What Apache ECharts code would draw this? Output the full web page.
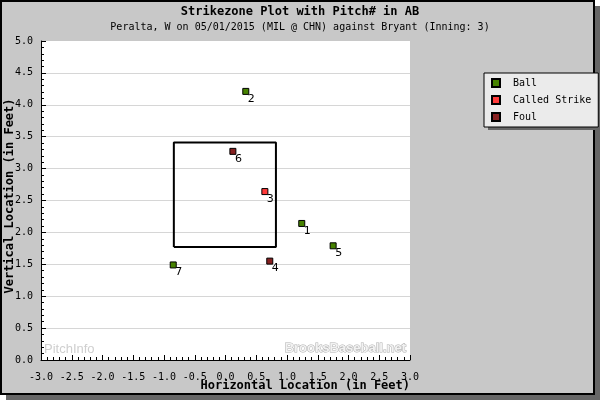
<!DOCTYPE html>
<html>
<head>
<meta charset="utf-8">
<script src="https://cdn.jsdelivr.net/npm/echarts@6/dist/echarts.min.js"></script>
<style>
  html, body { margin: 0; padding: 0; background: #ffffff; }
  #wrap { position: relative; width: 600px; height: 400px; overflow: hidden; }
  #shadow { position: absolute; left: 6px; top: 6px; width: 594px; height: 394px; background: #666666; }
  #frame { position: absolute; left: 0; top: 0; width: 595px; height: 395px; background: #c8c8c8; border: 2px solid #000; box-sizing: border-box; }
  #chart { position: absolute; left: 0; top: 0; width: 600px; height: 400px; }
</style>
</head>
<body>
<div id="wrap">
  <div id="shadow"></div>
  <div id="frame"></div>
  <div id="chart"></div>
</div>
<script>
// ---- data ----
const chartTitle = 'Strikezone Plot with Pitch# in AB';
const chartSubtitle = 'Peralta, W on 05/01/2015 (MIL @ CHN) against Bryant (Inning: 3)';
const xAxisTitle = 'Horizontal Location (in Feet)';
const yAxisTitle = 'Vertical Location (in Feet)';
const categories = ['Ball', 'Called Strike', 'Foul'];
const categoryColors = ['#468200', '#ff3a3a', '#862020'];
const pitchNum  = [1, 2, 3, 4, 5, 6, 7];
const pitchX    = [1.24, 0.33, 0.64, 0.72, 1.75, 0.12, -0.85];
const pitchY    = [2.14, 4.21, 2.64, 1.55, 1.79, 3.27, 1.49];
const pitchType = ['Ball', 'Ball', 'Called Strike', 'Foul', 'Ball', 'Foul', 'Ball'];
const zoneX = [-0.84, 0.82];
const zoneY = [1.77, 3.41];
const xRange = [-3, 3];
const yRange = [0, 5];
const tickStep = 0.5;

// ---- build ----
const MONO = 'DejaVu Sans Mono';
const zonePath = [
  [zoneX[0], zoneY[0]], [zoneX[1], zoneY[0]], [zoneX[1], zoneY[1]],
  [zoneX[0], zoneY[1]], [zoneX[0], zoneY[0]]
];

const scatterSeries = categories.map((cat, ci) => ({
  name: cat,
  type: 'scatter',
  symbol: 'rect',
  symbolSize: 6,
  itemStyle: { color: categoryColors[ci], borderColor: '#000', borderWidth: 1, opacity: 1 },
  label: {
    show: true,
    position: [9, 11],
    align: 'center',
    verticalAlign: 'middle',
    formatter: p => String(p.value[2]),
    fontFamily: 'DejaVu Sans',
    fontSize: 11,
    color: '#000'
  },
  emphasis: { disabled: true },
  z: 5,
  data: pitchNum
    .map((n, i) => ({ n, i }))
    .filter(d => pitchType[d.i] === cat)
    .map(d => [pitchX[d.i], pitchY[d.i], d.n])
}));

const axisCommon = {
  type: 'value',
  interval: tickStep,
  axisLine: { show: true, onZero: false, lineStyle: { color: '#000', width: 1 } },
  axisTick: { show: true, inside: true, length: 5, lineStyle: { color: '#000' } },
  minorTick: { show: true, splitNumber: 5, length: 3, lineStyle: { color: '#000' } },
  axisLabel: {
    fontFamily: MONO, fontSize: 10, color: '#000',
    formatter: v => v.toFixed(1)
  }
};

const chart = echarts.init(document.getElementById('chart'), null, { renderer: 'canvas' });
chart.setOption({
  animation: false,
  title: {
    text: chartTitle,
    subtext: chartSubtitle,
    left: 'center',
    top: 1,
    itemGap: 4,
    textStyle: { fontFamily: MONO, fontWeight: 'bold', fontSize: 12, color: '#000' },
    subtextStyle: { fontFamily: MONO, fontSize: 10, color: '#000' }
  },
  legend: {
    orient: 'vertical',
    left: 484,
    top: 73,
    padding: [4, 7, 4, 7],
    itemGap: 5,
    itemWidth: 8,
    itemHeight: 8,
    icon: 'rect',
    backgroundColor: '#ebebeb',
    borderColor: '#000',
    borderWidth: 1,
    selectedMode: false,
    z: 10,
    textStyle: { fontFamily: MONO, fontSize: 10, color: '#000', padding: [0, 0, 0, 8], lineHeight: 12 },
    data: categories
  },
  grid: {
    left: 41, top: 41, right: 190, bottom: 40,
    show: true, backgroundColor: '#ffffff', borderWidth: 0
  },
  xAxis: Object.assign({}, axisCommon, {
    min: xRange[0], max: xRange[1],
    splitLine: { show: false },
    axisLabel: Object.assign({}, axisCommon.axisLabel, { margin: 12 })
  }),
  yAxis: Object.assign({}, axisCommon, {
    min: yRange[0], max: yRange[1],
    splitLine: { show: true, showMinLine: false, showMaxLine: false, lineStyle: { color: '#d6d6d6', width: 1 } },
    axisLabel: Object.assign({}, axisCommon.axisLabel, { margin: 8 })
  }),
  graphic: [
    { type: 'rect', z: 1, silent: true,
      shape: { x: 488, y: 77, width: 113, height: 53 },
      style: { fill: '#666666' } },
    { type: 'text', x: 44, y: 349, z: 1, silent: true,
      style: { text: 'PitchInfo', font: '13px "Liberation Sans"', fill: '#cfcfcf', textVerticalAlign: 'middle' } },
    { type: 'text', x: 406, y: 348, z: 1, silent: true,
      style: { text: 'BrooksBaseball.net', font: 'bold 13px "Liberation Sans"', fill: '#f2f2f2', stroke: '#b0b0b0', lineWidth: 1, textAlign: 'right', textVerticalAlign: 'middle' } },
    { type: 'text', x: 410, y: 386, silent: true,
      style: { text: xAxisTitle, font: 'bold 12px "DejaVu Sans Mono"', fill: '#000', textAlign: 'right', textVerticalAlign: 'middle' } },
    { type: 'text', x: 10, y: 196, rotation: Math.PI / 2, silent: true,
      style: { text: yAxisTitle, font: 'bold 12px "DejaVu Sans Mono"', fill: '#000', textAlign: 'center', textVerticalAlign: 'middle' } }
  ],
  series: [
    {
      name: 'zone',
      type: 'line',
      data: zonePath,
      symbol: 'none',
      lineStyle: { color: '#000', width: 2 },
      silent: true,
      z: 3
    }
  ].concat(scatterSeries)
});
</script>
</body>
</html>
